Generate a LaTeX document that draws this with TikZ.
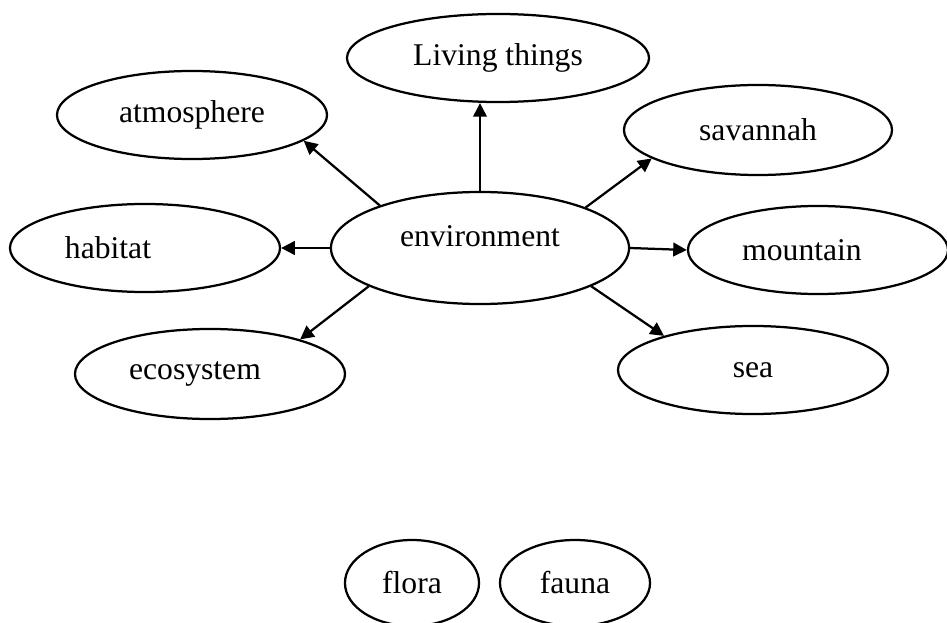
\documentclass[tikz,border=0pt]{standalone}
\usepackage{fontspec}
\setmainfont{Liberation Serif}
\usetikzlibrary{shapes.geometric,arrows.meta}

\begin{document}
\begin{tikzpicture}[x=0.025cm, y=-0.025cm,
		font=\fontsize{22.5}{27}\selectfont,
		oval/.style={draw, ellipse, line width=1.6pt, inner sep=0pt},
		link/.style={line width=1.6pt, -{Triangle[length=0.34cm, width=0.34cm]}}]
	\useasboundingbox (0,0) rectangle (947,623);
	
	% centre
	\node[oval, minimum width=7.45cm, minimum height=2.8cm, label={[yshift=0.3cm]center:environment}] (env) at (480,248) {};
	
	% ring
	\node[oval, minimum width=7.55cm, minimum height=2.2cm] (liv) at (498,58) {Living things};
	\node[oval, minimum width=6.75cm, minimum height=2.2cm] (atm) at (192,115) {atmosphere};
	\node[oval, minimum width=6.7cm, minimum height=2.25cm] (sav) at (758,130) {savannah};
	\node[oval, minimum width=6.75cm, minimum height=2.2cm, label={[xshift=-0.925cm]center:habitat}] (hab) at (145,248) {};
	\node[oval, minimum width=6.5cm, minimum height=2.2cm, label={[xshift=-0.4cm]center:mountain}] (mnt) at (818,250) {};
	\node[oval, minimum width=6.75cm, minimum height=2.25cm, label={[xshift=-0.375cm]center:ecosystem}] (eco) at (210,374) {};
	\node[oval, minimum width=6.75cm, minimum height=2.2cm] (sea) at (753,370) {sea};
	
	% bottom pair
	\node[oval, minimum width=3.35cm, minimum height=2.15cm] (flo) at (412,583) {flora};
	\node[oval, minimum width=3.75cm, minimum height=2.15cm] (fau) at (575,583) {fauna};
	
	\draw[link] (env.north) -- (env.north |- liv.south);
	\draw[link] (env.157) -- (atm.-13);
	\draw[link] (env.21) -- (sav.195);
	\draw[link] (env.west) -- (hab.east);
	\draw[link] (env.east) -- (mnt.west);
	\draw[link] (env.199) -- (eco.21);
	\draw[link] (env.-19) -- (sea.159);
\end{tikzpicture}
\end{document}
